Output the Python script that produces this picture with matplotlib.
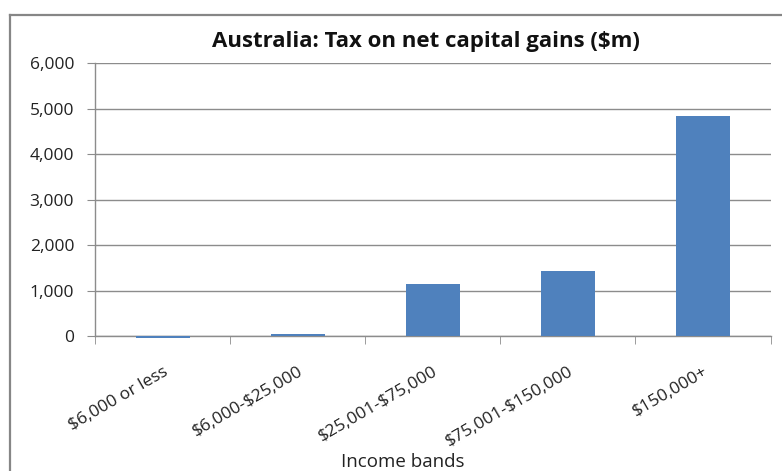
import matplotlib.pyplot as plt
from matplotlib.lines import Line2D
from matplotlib.ticker import FuncFormatter
import numpy as np

# data
categories = ["$6,000 or less", "$6,000-$25,000", "$25,001-$75,000",
              "$75,001-$150,000", "$150,000+"]
tax_m = [-40, 50, 1150, 1440, 4845]
y_ticks = [0, 1000, 2000, 3000, 4000, 5000, 6000]

plt.rcParams['font.family'] = ['Open Sans', 'DejaVu Sans']
plt.rcParams['text.parse_math'] = False

W, H = 782, 471
fig = plt.figure(figsize=(W / 100, H / 100), dpi=100)

# plot area in pixel coords
left, right, top, bottom = 95, 770.5, 63.2, 336.2
ax = fig.add_axes([left / W, 1 - bottom / H, (right - left) / W, (bottom - top) / H])

x = np.arange(len(categories))
ax.bar(x, tax_m, width=0.4, color="#4F81BD", zorder=3, clip_on=False)

ax.set_xlim(-0.5, len(categories) - 0.5)
ax.set_ylim(0, 6000)
ax.set_yticks(y_ticks)
ax.yaxis.set_major_formatter(FuncFormatter(lambda v, p: f"{int(v):,}"))
ax.grid(axis="y", color="#8c8c8c", linewidth=1, zorder=0)

grey = "#8c8c8c"
for s in ["top", "right"]:
    ax.spines[s].set_visible(False)
for s in ["left", "bottom"]:
    ax.spines[s].set_color(grey)
    ax.spines[s].set_linewidth(1)

ax.tick_params(axis="y", length=6, color=grey, labelsize=12.5, pad=9,
               labelcolor="#222222")
# category labels at centres, tick marks at boundaries
ax.set_xticks(x)
ax.set_xticklabels(categories, rotation=30, ha="right", va="top",
                   rotation_mode="anchor", fontsize=12.5, color="#222222")
ax.tick_params(axis="x", which="major", length=0, pad=20)
ax.set_xticks(np.arange(-0.5, len(categories)), minor=True)
ax.tick_params(axis="x", which="minor", length=6, color=grey)

fig.text(426 / W, 1 - 42 / H, "Australia: Tax on net capital gains ($m)",
         ha="center", va="center", fontsize=16, fontweight="bold", color="#111111")
fig.text(403 / W, 1 - 462 / H, "Income bands", ha="center", va="center",
         fontsize=13.5, color="#222222")

# outer chart border (cropped at right and bottom)
fig.add_artist(Line2D([10 / W, 10 / W], [0, 1 - 15 / H], transform=fig.transFigure,
                      color="#868686", linewidth=1.6))
fig.add_artist(Line2D([10 / W, 1], [1 - 15 / H, 1 - 15 / H], transform=fig.transFigure,
                      color="#868686", linewidth=1.6))

plt.savefig("out.png", dpi=100)
plt.close()
